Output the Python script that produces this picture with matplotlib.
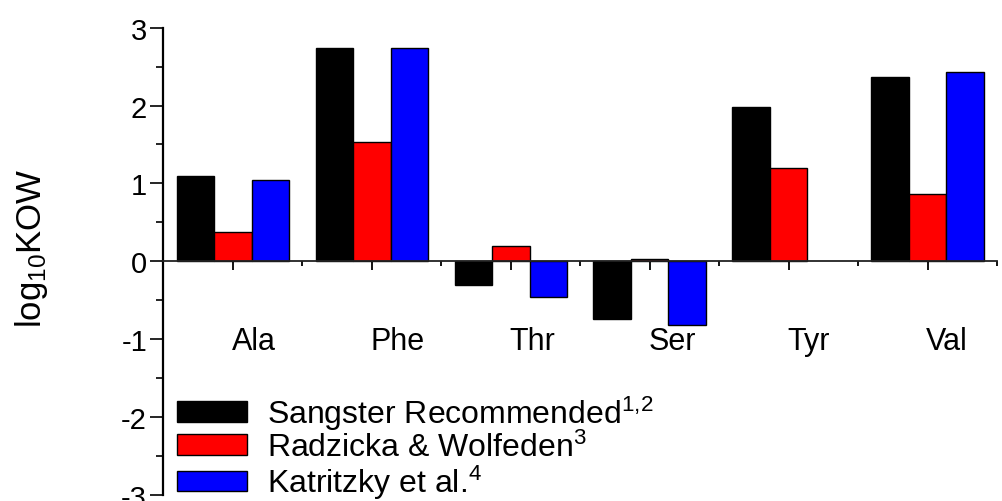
import numpy as np
import matplotlib.pyplot as plt
from matplotlib.ticker import MultipleLocator

plt.rcParams['font.family'] = ['Liberation Sans', 'DejaVu Sans']
plt.rcParams['mathtext.default'] = 'regular'
plt.rcParams['axes.unicode_minus'] = False

# data
amino_acids = ["Ala", "Phe", "Thr", "Ser", "Tyr", "Val"]
sangster = [1.10, 2.74, -0.30, -0.74, 1.98, 2.37]
radzicka = [0.38, 1.53, 0.20, 0.03, 1.20, 0.87]
katritzky = [1.05, 2.74, -0.46, -0.82, np.nan, 2.43]

series_names = ["Sangster Recommended$^{1,\\!2}$",
                "Radzicka & Wolfeden$^{3}$",
                "Katritzky et al.$^{4}$"]
series_colors = ["#000000", "#ff0000", "#0000ff"]

fig = plt.figure(figsize=(10.02, 5.02), dpi=100)
ax = fig.add_axes([0.1627, 0.012, 0.8323, 0.931])

x = np.arange(len(amino_acids))
width = 0.27
all_series = [sangster, radzicka, katritzky]
for k in range(3):
    ax.bar(x + (k - 1) * width, all_series[k], width, color=series_colors[k],
           edgecolor="black", linewidth=1.0, label=series_names[k], zorder=2)

ax.set_xlim(-0.504, 5.42)
ax.set_ylim(-3, 3)

# spines: left axis plus a zero line acting as x axis
ax.spines["top"].set_visible(False)
ax.spines["right"].set_visible(False)
ax.spines["bottom"].set_position(("data", 0))
ax.spines["bottom"].set_linewidth(1.3)
ax.spines["bottom"].set_color("#222222")
ax.spines["bottom"].set_zorder(3)
ax.spines["left"].set_linewidth(1.6)

ax.yaxis.set_major_locator(MultipleLocator(1))
ax.yaxis.set_minor_locator(MultipleLocator(0.5))
ax.tick_params(axis="y", which="major", length=9.5, width=1.2, labelsize=21, pad=2)
ax.tick_params(axis="y", which="minor", length=5, width=1.2)

ax.set_xticks(x)
ax.set_xticks(x + 0.5, minor=True)
ax.tick_params(axis="x", which="major", length=6.5, width=1.3, labelbottom=False)
ax.tick_params(axis="x", which="minor", length=3.6, width=1.3)

# category names sit below the zero line
for i, name in enumerate(amino_acids):
    ax.text(x[i] - 0.01, -1.125, name, ha="left", va="baseline", fontsize=22)

fig.text(31 / 1002, 1 - 248 / 502, "log$_{10}$KOW", rotation=90,
         ha="center", va="center", fontsize=25)

leg = ax.legend(loc="lower left", bbox_to_anchor=(0.013, -0.02), frameon=False,
                fontsize=23, handlelength=2.2, handleheight=0.62,
                handletextpad=0.62, labelspacing=0.0, borderpad=0.1,
                borderaxespad=0)

fig.savefig("out.png", dpi=100)
